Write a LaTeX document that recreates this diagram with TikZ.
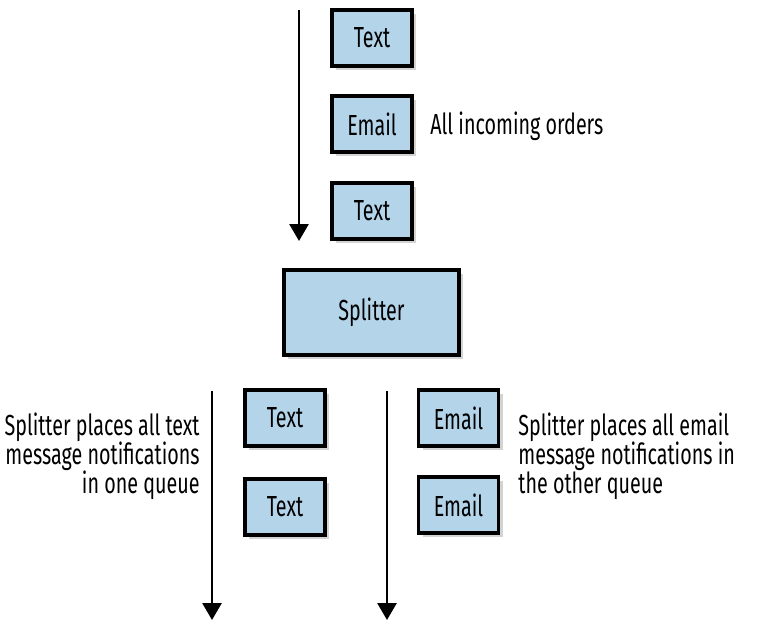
\documentclass[tikz,border=0pt]{standalone}
\usepackage{fontspec}
\setmainfont[FakeStretch=0.68]{Fira Sans}
\usetikzlibrary{arrows.meta,shadows}
\definecolor{msgblue}{RGB}{180,212,234}
\tikzset{
  msg/.style={draw=black, line width=1.7pt, fill=msgblue, minimum width=40pt, minimum height=28pt,
    drop shadow={opacity=0.35, shadow xshift=2pt, shadow yshift=-2pt}},
  flow/.style={line width=1.4pt, -{Triangle[width=9.5pt,length=8.5pt]}},
  note/.style={inner sep=0pt}
}
\begin{document}
\begin{tikzpicture}[x=0.5pt, y=-0.5pt, font=\fontsize{14.5}{14.5}\selectfont]
    \useasboundingbox (0, 0) rectangle (758, 632);

    \node (top1) at (372, 38) [msg] {Text};
    \node (top2) at (372, 124) [msg] {Email};
    \node (top3) at (372, 211) [msg] {Text};
    \node (incoming) at (430, 126) [note, anchor=west] {All incoming orders};
    \coordinate (in-start) at (299, 10);
    \coordinate (in-end) at (299, 241);

    \node (splitter) at (371.5, 312.5) [msg, minimum width=87.5pt, minimum height=42.5pt] {Splitter};

    \node (text1) at (285, 418) [msg] {Text};
    \node (text2) at (285, 507) [msg] {Text};
    \node (email1) at (458.5, 418) [msg] {Email};
    \node (email2) at (458.5, 505) [msg] {Email};
    \node (textnote) at (200, 456) [note, anchor=east, align=right] {Splitter places all text\\message notifications\\in one queue};
    \node (emailnote) at (518, 456) [note, anchor=west, align=left] {Splitter places all email\\message notifications in\\the other queue};
    \coordinate (text-start) at (212, 391);
    \coordinate (text-end) at (212, 620);
    \coordinate (email-start) at (387, 391);
    \coordinate (email-end) at (387, 620);

    \draw[flow] (in-start) to (in-end);
    \draw[flow] (text-start) to (text-end);
    \draw[flow] (email-start) to (email-end);
  \end{tikzpicture}
\end{document}
